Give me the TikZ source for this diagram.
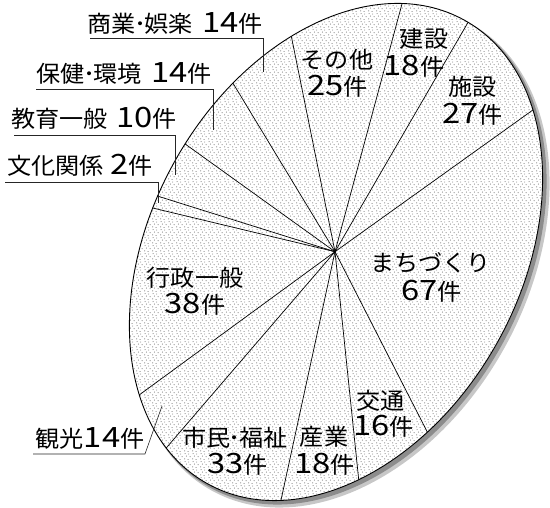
\documentclass[tikz,border=0pt]{standalone}
\usepackage{fontspec}
\setmainfont{Noto Sans CJK JP}[FakeStretch=1.05]
\newfontfamily\numfam{Noto Sans CJK JP}[FakeStretch=1.17]
\usetikzlibrary{patterns}
\pgfdeclarepatternformonly{stipple}{\pgfpoint{0pt}{0pt}}{\pgfpoint{8pt}{8pt}}{\pgfpoint{8pt}{8pt}}{%
  \pgfpathcircle{\pgfpoint{0.8pt}{1.3pt}}{0.5pt}%
  \pgfpathcircle{\pgfpoint{4.6pt}{0.5pt}}{0.5pt}%
  \pgfpathcircle{\pgfpoint{6.9pt}{3.6pt}}{0.5pt}%
  \pgfpathcircle{\pgfpoint{2.7pt}{4.4pt}}{0.5pt}%
  \pgfpathcircle{\pgfpoint{5.3pt}{6.7pt}}{0.5pt}%
  \pgfpathcircle{\pgfpoint{1.2pt}{7.1pt}}{0.5pt}%
  \pgfusepath{fill}}
\newcommand\kazu[1]{{\numfam\fontsize{28}{28}\selectfont #1}}
\newcommand\nkdot{\kern-1.5pt･\kern-1.5pt}
\begin{document}
\begin{tikzpicture}[x=1pt,y=1pt,
  declare function={er(\t)=490.25/sqrt((1.85*cos(\t-61))^2+(2.65*sin(\t-61))^2);},
  lab/.style={inner sep=0pt, font=\fontsize{23}{26}\selectfont},
  spoke/.style={line width=0.7pt, black},
  rim/.style={line width=0.9pt, black},
  lead/.style={line width=0.6pt, black!85}]
\useasboundingbox (0,0) rectangle (550,508);
\coordinate (O) at (336,256);
\coordinate (P) at (335,256.3);
\coordinate (S1) at (341,251);
\coordinate (S2) at (339,253);
% shadow rim
\fill[black!22, rotate around={61:(S1)}] (S1) ellipse [x radius=267, y radius=187];
\fill[black!45, rotate around={61:(S2)}] (S2) ellipse [x radius=266, y radius=186];
% pie face
\fill[white, rotate around={61:(O)}] (O) ellipse [x radius=265, y radius=185];
\fill[pattern=stipple, pattern color=black!75, rotate around={61:(O)}] (O) ellipse [x radius=265, y radius=185];
% slice boundaries
\foreach \n/\a in {1/101.7, 2/75.1, 3/60.1, 4/35.8, 5/-63.1, 6/-84.3, 7/-102.5,
                   8/-130.9, 9/-144.0, 10/166.5, 11/162.6, 12/144.4, 13/121.4}
  \path (O) ++(\a:{er(\a)}) coordinate (e\n);
\foreach \n in {1,...,13} \draw[spoke] (P) -- (e\n);
\draw[rim, rotate around={61:(O)}] (O) ellipse [x radius=265, y radius=185];
% labels inside
\node[lab] (sonota1) at (337,448.5) {その他};
\node[lab] (sonota2) at (337.5,422) {\kazu{25}件};
\node[lab] (kensetsu1) at (424,469) {建設};
\node[lab] (kensetsu2) at (414,441.5) {\kazu{18}件};
\node[lab] (shisetsu1) at (472.5,421) {施設};
\node[lab] (shisetsu2) at (472.5,394) {\kazu{27}件};
\node[lab] (machi1) at (430.5,245) {まちづくり};
\node[lab] (machi2) at (431.5,217) {\kazu{67}件};
\node[lab] (kotsu1) at (380.5,107) {交通};
\node[lab] (kotsu2) at (383.5,81.5) {\kazu{16}件};
\node[lab] (sangyo1) at (324,71) {産業};
\node[lab] (sangyo2) at (324.5,44) {\kazu{18}件};
\node[lab] (shimin1) at (235,70) {市民\nkdot 福祉};
\node[lab] (shimin2) at (237.5,44) {\kazu{33}件};
\node[lab] (gyosei1) at (195,230) {行政一般};
\node[lab] (gyosei2) at (195,204) {\kazu{38}件};
% labels outside with leaders
\node[lab] (shogyo) at (175,485) {商業\nkdot 娯楽\hspace{9pt}\kazu{14}件};
\coordinate (sg1) at (90,470); \coordinate (sg2) at (263,470); \coordinate (sg3) at (263,436);
\draw[lead] (sg1) -- (sg2) -- (sg3);
\node[lab] (hoken) at (124,435) {保健\nkdot 環境\hspace{9pt}\kazu{14}件};
\coordinate (hk1) at (36,419); \coordinate (hk2) at (213,419); \coordinate (hk3) at (213,378);
\draw[lead] (hk1) -- (hk2) -- (hk3);
\node[lab] (kyoiku) at (94,390) {教育一般\hspace{8pt}\kazu{10}件};
\coordinate (ky1) at (14,373); \coordinate (ky2) at (175,373); \coordinate (ky3) at (175,333);
\draw[lead] (ky1) -- (ky2) -- (ky3);
\node[lab] (bunka) at (80,343) {文化関係\hspace{6pt}\kazu{2}件};
\coordinate (bk1) at (5,326); \coordinate (bk2) at (158,326); \coordinate (bk3) at (158,305);
\draw[lead] (bk1) -- (bk2) -- (bk3);
\node[lab] (kanko) at (90,70) {観光\kazu{14}件};
\coordinate (kk1) at (33,54); \coordinate (kk2) at (145,54); \coordinate (kk3) at (162,102);
\draw[lead] (kk1) -- (kk2) -- (kk3);
\end{tikzpicture}
\end{document}
